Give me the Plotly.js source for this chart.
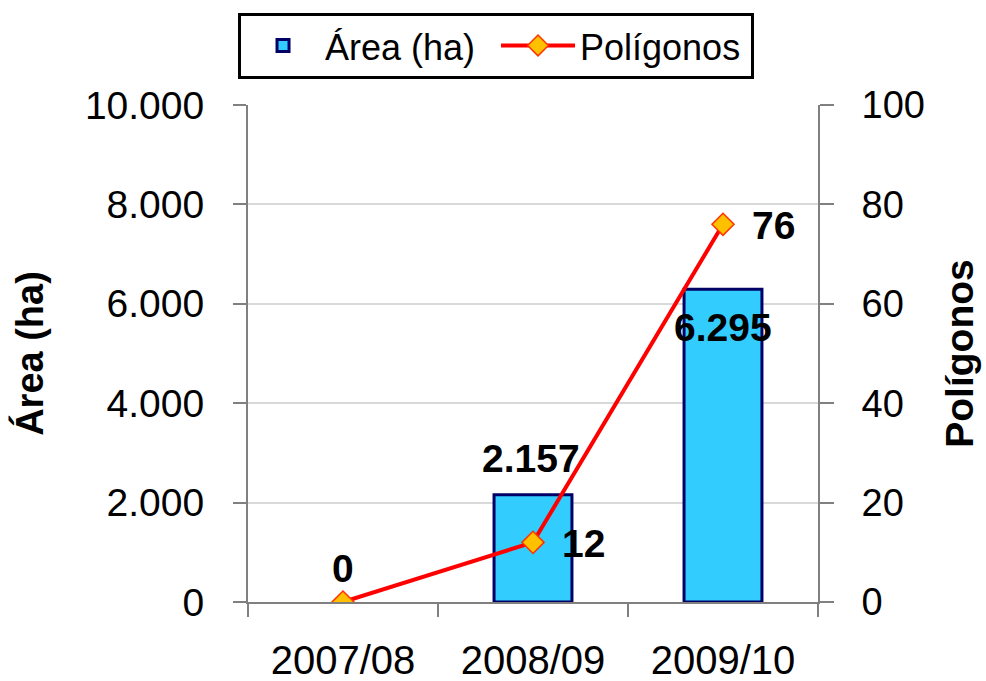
<!DOCTYPE html>
<html>
<head>
<meta charset="utf-8">
<script src="https://cdn.plot.ly/plotly-3.0.1.min.js"></script>
<style>html,body{margin:0;padding:0;background:#fff;}#chart{width:986px;height:681px;}</style>
</head>
<body>
<div id="chart"></div>
<script>
const categories = ['2007/08', '2008/09', '2009/10'];
const areaValues = [0, 2157, 6295];
const poligonosValues = [0, 12, 76];
const areaTicks = [0, 2000, 4000, 6000, 8000, 10000];
const poligonosTicks = [0, 20, 40, 60, 80, 100];

function fmt(v) {
  return String(Math.round(v)).replace(/\B(?=(\d{3})+(?!\d))/g, '.');
}

const FONT = 'Liberation Sans, Arial, sans-serif';

const traces = [
  {
    type: 'bar',
    name: 'Área (ha)',
    x: categories,
    y: areaValues,
    // zero-height bars get no outline stroke (as in the original)
    width: areaValues.map(v => v === 0 ? 0 : 0.41),
    marker: {
      color: '#33CCFF',
      line: { color: '#000066', width: 3 }
    },
    hoverinfo: 'none'
  },
  {
    type: 'scatter',
    mode: 'lines+markers',
    name: 'Polígonos',
    x: categories,
    y: poligonosValues,
    yaxis: 'y2',
    line: { color: '#FF0000', width: 4 },
    marker: { symbol: 'diamond', size: 17, color: '#FFC000', line: { color: '#FF3300', width: 1.5 } },
    hoverinfo: 'none'
  }
];

const annotations = [];
// bar value labels
const barLabelShift = [34, 36, -38];
areaValues.forEach((v, i) => {
  annotations.push({
    x: categories[i], y: v, xref: 'x', yref: 'y',
    text: '<b>' + fmt(v) + '</b>', showarrow: false,
    yshift: barLabelShift[i], xshift: i === 1 ? -2 : 0,
    font: { family: FONT, size: 39, color: '#000' }
  });
});
// line value labels
poligonosValues.forEach((v, i) => {
  if (v === 0) return;
  annotations.push({
    x: categories[i], y: v, xref: 'x', yref: 'y2',
    text: '<b>' + fmt(v) + '</b>', showarrow: false,
    xshift: 50, yshift: -1,
    font: { family: FONT, size: 39, color: '#000' }
  });
});

const layout = {
  width: 986, height: 681,
  margin: { l: 248, r: 168, t: 103, b: 79 },
  paper_bgcolor: '#fff', plot_bgcolor: '#fff',
  separators: ',.',
  font: { family: FONT, color: '#000' },
  showlegend: true,
  xaxis: {
    type: 'category',
    showline: true, linecolor: '#808080', linewidth: 2,
    ticks: 'outside', tickson: 'boundaries', ticklen: 13, tickcolor: '#808080', tickwidth: 2,
    tickfont: { family: FONT, size: 40, color: '#000' },
    ticklabelstandoff: 22,
    showgrid: false, zeroline: false,
    fixedrange: true
  },
  yaxis: {
    range: [0, 10000],
    tickvals: areaTicks,
    ticktext: areaTicks.map(fmt),
    showline: true, linecolor: '#808080', linewidth: 2,
    ticks: 'outside', ticklen: 13, tickcolor: '#808080', tickwidth: 2,
    tickfont: { family: FONT, size: 39, color: '#000' },
    ticklabelstandoff: 21,
    showgrid: true, gridcolor: '#D9D9D9', gridwidth: 2,
    zeroline: false,
    title: { text: '<b>Área (ha)</b>', font: { family: FONT, size: 38, color: '#000' }, standoff: 30 },
    automargin: false
  },
  yaxis2: {
    overlaying: 'y', side: 'right',
    range: [0, 100],
    tickvals: poligonosTicks,
    ticktext: poligonosTicks.map(fmt),
    showline: true, linecolor: '#808080', linewidth: 2,
    ticks: 'outside', ticklen: 14, tickcolor: '#808080', tickwidth: 2,
    tickfont: { family: FONT, size: 38, color: '#000' },
    ticklabelstandoff: 20,
    showgrid: false, zeroline: false,
    title: { text: '<b>Polígonos</b>', font: { family: FONT, size: 39, color: '#000' }, standoff: 22 },
    automargin: false
  },
  legend: {
    orientation: 'h',
    x: -0.0175, xanchor: 'left',
    y: 1.186, yanchor: 'top',
    bgcolor: '#fff', bordercolor: '#000', borderwidth: 3,
    font: { family: FONT, size: 36, color: '#000' },
    itemwidth: 74,
    entrywidth: 166,
    traceorder: 'normal'
  },
  annotations: annotations
};

Plotly.newPlot('chart', traces, layout, { staticPlot: true, displayModeBar: false });
</script>
</body>
</html>
